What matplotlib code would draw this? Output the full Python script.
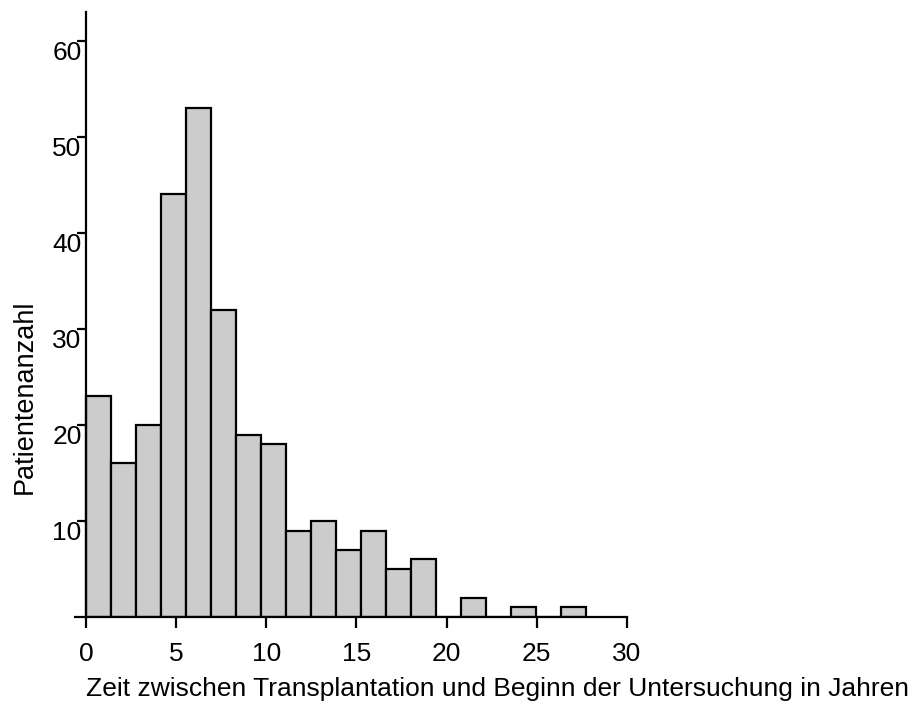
import matplotlib
matplotlib.use("Agg")
import matplotlib.pyplot as plt
import numpy as np

# histogram data: counts per bin
counts = [23, 16, 20, 44, 53, 32, 19, 18, 9, 10, 7, 9, 5, 6, 0, 2, 0, 1, 0, 1]
bin_start = 0.0
bin_width = 1.3865

x_ticks = [0, 5, 10, 15, 20, 25, 30]
y_ticks = [10, 20, 30, 40, 50, 60]

x_label = "Zeit zwischen Transplantation und Beginn der Untersuchung in Jahren"
y_label = "Patientenanzahl"

plt.rcParams['font.family'] = ['Liberation Sans', 'DejaVu Sans']

fig = plt.figure(figsize=(9.2, 7.07), dpi=100)
ax = fig.add_axes([75 / 920, (707 - 617) / 707, (627 - 75) / 920, (617 - 12) / 707])

edges = bin_start + bin_width * np.arange(len(counts))
ax.bar(edges, counts, width=bin_width, align='edge', color='#cccccc',
       edgecolor='black', linewidth=1.6, zorder=2)

ax.set_xlim(-0.6, 30)
ax.set_ylim(0, 63)

for side in ['top', 'right']:
    ax.spines[side].set_visible(False)
for side in ['left', 'bottom']:
    ax.spines[side].set_linewidth(1.6)
ax.spines['left'].set_position(('data', 0))

ax.set_xticks(x_ticks)
ax.set_yticks(y_ticks)
ax.tick_params(axis='x', direction='out', length=8, width=1.6, pad=10, labelsize=19)
ax.tick_params(axis='y', direction='out', length=6.5, width=1.6, pad=-3.5, labelsize=19)
for lab in ax.get_yticklabels():
    lab.set_verticalalignment('top')

fig.text(498 / 920, 1 - 689 / 707, x_label, ha='center', va='center', fontsize=19)
fig.text(25 / 920, 1 - 397 / 707, y_label, ha='center', va='center', rotation=90, fontsize=19.5)

fig.savefig("out.png", dpi=100)
